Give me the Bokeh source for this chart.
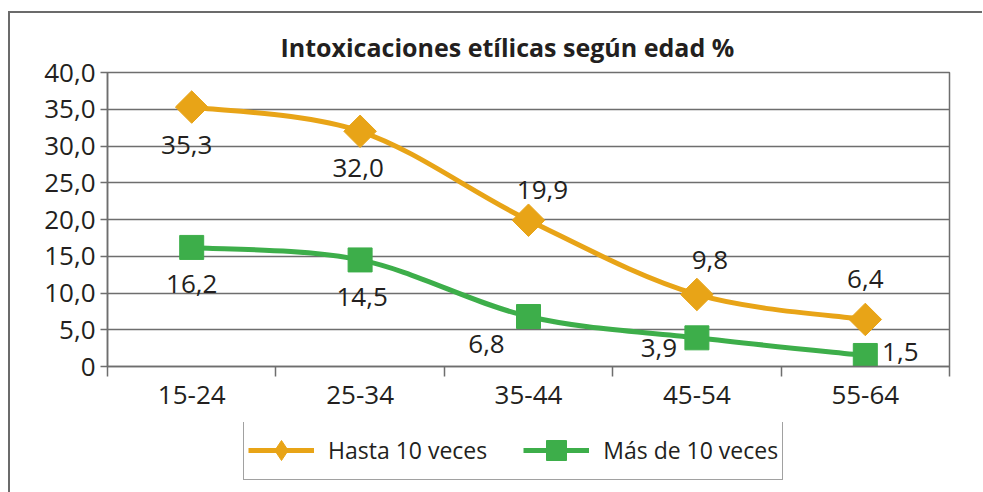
from bokeh.plotting import figure
from bokeh.layouts import column
from bokeh.models import (ColumnDataSource, FixedTicker, Legend, LegendItem,
                          Title, Range1d)
from bokeh.core.properties import value
from bokeh.embed import file_html
from bokeh.resources import INLINE

# ---------------- data ----------------
categories = ["15-24", "25-34", "35-44", "45-54", "55-64"]
hasta = [35.3, 32.0, 19.9, 9.8, 6.4]
mas = [16.2, 14.5, 6.8, 3.9, 1.5]
series_names = ["Hasta 10 veces", "Más de 10 veces"]
y_ticks = [0, 5, 10, 15, 20, 25, 30, 35, 40]
title_text = "Intoxicaciones etílicas según edad %"

# ---------------- styling ----------------
FONT = "Open Sans"
TXT = "#231f20"
GRID = "#6e6e6e"
ORANGE = "#E8A417"
GREEN = "#3DAE4A"
# label offsets in screen px (styling only)
hasta_dx = [-5, -2, 14, 13, 0]
hasta_dy = [38, 37, -30, -34, -40]
mas_dx = [0, 2, -42, -38, 35]
mas_dy = [37, 37, 27, 10, -3]

xs = [i + 0.5 for i in range(len(categories))]


def fmt(v):
    return "0" if v == 0 else f"{v:.1f}".replace(".", ",")


p = figure(frame_width=842, frame_height=294, output_backend="svg",
           toolbar_location=None,
           x_range=Range1d(0, len(categories)), y_range=Range1d(0, 40),
           min_border_left=97, min_border_right=33, min_border_top=59,
           min_border_bottom=56)
p.outline_line_color = GRID
p.outline_line_width = 1.5
p.background_fill_color = "white"
p.border_fill_color = "white"

# title
p.title = None
t = Title(text=title_text, align="left", offset=173, text_font=FONT,
          text_font_size="25px", text_font_style="bold", text_color=TXT,
          standoff=18)
p.add_layout(t, "above")

# axes
xa = p.xaxis[0]
xa.ticker = FixedTicker(ticks=xs, minor_ticks=list(range(len(categories) + 1)))
xa.major_label_overrides = {x: c for x, c in zip(xs, categories)}
xa.major_tick_out = 0
xa.major_tick_in = 0
xa.minor_tick_out = 10
xa.minor_tick_in = 0
xa.minor_tick_line_color = GRID
xa.minor_tick_line_width = 1.5
xa.axis_line_color = GRID
xa.axis_line_width = 1.5
xa.major_label_text_font = FONT
xa.major_label_text_font_size = "26px"
xa.major_label_text_color = TXT
xa.major_label_standoff = 9

ya = p.yaxis[0]
ya.ticker = FixedTicker(ticks=y_ticks, minor_ticks=[])
ya.major_label_overrides = {v: fmt(v) for v in y_ticks}
ya.major_tick_out = 7
ya.major_tick_in = 0
ya.major_tick_line_color = GRID
ya.major_tick_line_width = 1.5
ya.axis_line_color = GRID
ya.axis_line_width = 1.5
ya.major_label_text_font = FONT
ya.major_label_text_font_size = "26px"
ya.major_label_text_color = TXT
ya.major_label_standoff = 5

p.xgrid.visible = False
p.ygrid.ticker = FixedTicker(ticks=y_ticks)
p.ygrid.grid_line_color = GRID
p.ygrid.grid_line_width = 1.5


def smooth(xv, yv):
    n = len(xv)
    seg = dict(x0=[], y0=[], x1=[], y1=[], cx0=[], cy0=[], cx1=[], cy1=[])
    for i in range(n - 1):
        i0, i3 = max(i - 1, 0), min(i + 2, n - 1)
        seg["x0"].append(xv[i]); seg["y0"].append(yv[i])
        seg["x1"].append(xv[i + 1]); seg["y1"].append(yv[i + 1])
        seg["cx0"].append(xv[i] + (xv[i + 1] - xv[i0]) / 6)
        seg["cy0"].append(yv[i] + (yv[i + 1] - yv[i0]) / 6)
        seg["cx1"].append(xv[i + 1] - (xv[i3] - xv[i]) / 6)
        seg["cy1"].append(yv[i + 1] - (yv[i3] - yv[i]) / 6)
    return ColumnDataSource(seg)


# legend figure (below the chart); its ranges keep the series out of view,
# only the legend box shows
lf = figure(width=972, height=70, output_backend="svg", toolbar_location=None,
            x_range=Range1d(0, 1), y_range=Range1d(-1, 0),
            x_axis_type=None, y_axis_type=None,
            min_border_left=0, min_border_right=0, min_border_top=0,
            min_border_bottom=0)
lf.title = None
lf.outline_line_color = None
lf.xgrid.visible = False
lf.ygrid.visible = False
lf.border_fill_color = "white"

items = []
for vals, color, marker, msize, angle, dx, dy, name, lmarker in [
        (hasta, ORANGE, "square", 23, 0.785398, hasta_dx, hasta_dy, series_names[0], "diamond"),
        (mas, GREEN, "square", 24, 0.0, mas_dx, mas_dy, series_names[1], "square")]:
    p.bezier(x0="x0", y0="y0", x1="x1", y1="y1", cx0="cx0", cy0="cy0",
             cx1="cx1", cy1="cy1", source=smooth(xs, vals),
             line_color=color, line_width=5)
    src = ColumnDataSource(dict(x=xs, y=vals, lab=[fmt(v) for v in vals],
                                dx=dx, dy=dy))
    p.scatter("x", "y", source=src, marker=marker, size=msize, angle=angle,
              fill_color=color, line_color=color)
    p.text("x", "y", text="lab", source=src, x_offset="dx", y_offset="dy",
           text_font=value(FONT), text_font_size="26px", text_color=TXT,
           text_align="center", text_baseline="middle")
    # legend renderers (same series, outside the legend panel's ranges)
    lsrc = ColumnDataSource(dict(x=xs, y=vals))
    lr = lf.line("x", "y", source=lsrc, line_color=color, line_width=5)
    mr = lf.scatter("x", "y", source=lsrc, marker=lmarker, size=msize,
                    fill_color=color, line_color=color)
    items.append(LegendItem(label=name, renderers=[lr, mr]))

legend = Legend(items=items, orientation="horizontal", location=(136, 12),
                glyph_width=66, glyph_height=50, padding=4, spacing=36,
                label_standoff=14, label_text_font=FONT,
                label_text_font_size="23px", label_text_color=TXT,
                border_line_color="#444444", border_line_width=1.5,
                background_fill_alpha=1.0, margin=0)
lf.add_layout(legend, "center")

layout = column(p, lf, spacing=0)
layout.margin = (11, 0, 0, 8)
layout.styles = {"border-left": "2px solid #6b6b6b",
                 "border-top": "2px solid #6b6b6b"}

open("out.html", "w").write(file_html(layout, INLINE))
